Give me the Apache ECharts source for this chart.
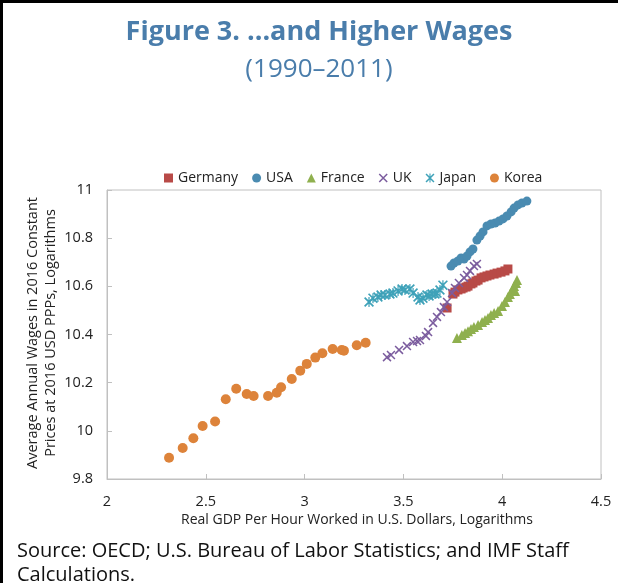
<!DOCTYPE html>
<html>
<head>
<meta charset="utf-8">
<script src="https://cdn.jsdelivr.net/npm/echarts@6/dist/echarts.min.js"></script>
<style>
html,body{margin:0;padding:0;background:#fff;}
#chart{width:618px;height:583px;}
</style>
</head>
<body>
<div id="chart"></div>
<script>
// Data: [real GDP per hour (log), average annual wage (log)]
const germany = [[3.721,10.510],[3.751,10.568],[3.761,10.576],[3.776,10.585],[3.792,10.589],[3.802,10.593],[3.817,10.597],[3.827,10.601],[3.842,10.610],[3.852,10.614],[3.867,10.622],[3.878,10.626],[3.893,10.635],[3.908,10.639],[3.923,10.643],[3.938,10.647],[3.959,10.651],[3.974,10.655],[3.994,10.659],[4.014,10.664],[4.029,10.672]];
const usa = [[3.741,10.684],[3.756,10.697],[3.776,10.705],[3.792,10.718],[3.807,10.713],[3.822,10.726],[3.837,10.743],[3.852,10.755],[3.872,10.792],[3.888,10.809],[3.903,10.826],[3.923,10.851],[3.943,10.859],[3.964,10.863],[3.984,10.871],[4.004,10.880],[4.024,10.892],[4.045,10.909],[4.060,10.925],[4.080,10.938],[4.100,10.946],[4.125,10.954]];
const france = [[3.771,10.385],[3.796,10.398],[3.812,10.406],[3.827,10.414],[3.842,10.423],[3.857,10.431],[3.878,10.439],[3.898,10.452],[3.913,10.460],[3.928,10.468],[3.943,10.481],[3.959,10.489],[3.979,10.498],[3.999,10.518],[4.014,10.535],[4.029,10.556],[4.039,10.568],[4.050,10.585],[4.060,10.601],[4.065,10.581],[4.070,10.614],[4.075,10.626]];
const uk = [[3.417,10.306],[3.437,10.315],[3.478,10.336],[3.518,10.352],[3.549,10.369],[3.569,10.373],[3.584,10.377],[3.614,10.394],[3.625,10.410],[3.650,10.448],[3.670,10.473],[3.690,10.493],[3.705,10.514],[3.721,10.535],[3.746,10.572],[3.761,10.593],[3.781,10.614],[3.807,10.635],[3.822,10.647],[3.837,10.664],[3.857,10.684],[3.872,10.693]];
const japan = [[3.326,10.535],[3.346,10.551],[3.371,10.556],[3.387,10.564],[3.407,10.564],[3.432,10.568],[3.447,10.572],[3.473,10.581],[3.493,10.589],[3.508,10.585],[3.533,10.589],[3.549,10.572],[3.574,10.556],[3.584,10.543],[3.599,10.551],[3.619,10.564],[3.630,10.560],[3.645,10.568],[3.660,10.568],[3.670,10.572],[3.685,10.585],[3.700,10.605]];
const korea = [[2.314,9.888],[2.383,9.929],[2.437,9.969],[2.484,10.020],[2.547,10.039],[2.601,10.131],[2.654,10.175],[2.707,10.153],[2.742,10.145],[2.815,10.145],[2.859,10.158],[2.881,10.181],[2.935,10.215],[2.978,10.250],[3.011,10.278],[3.054,10.304],[3.090,10.322],[3.142,10.340],[3.188,10.336],[3.199,10.333],[3.264,10.355],[3.309,10.366]];

const seriesNames = ['Germany','USA','France','UK','Japan','Korea'];
const xRange = [2, 4.5, 0.5];
const yRange = [9.8, 11, 0.2];

const FONT = '"Open Sans", "Noto Sans", sans-serif';
const crossPath = 'path://M0,1.2 L1.2,0 L10,8.8 L8.8,10 Z M8.8,0 L10,1.2 L1.2,10 L0,8.8 Z';
const starPath = 'path://M0,1.2 L1.2,0 L10,8.8 L8.8,10 Z M8.8,0 L10,1.2 L1.2,10 L0,8.8 Z M4.4,0 L5.6,0 L5.6,10 L4.4,10 Z';

const styles = [
  {data: germany, symbol: 'rect', size: 9, color: '#B84A47'},
  {data: usa, symbol: 'circle', size: 9, color: '#4A8BB1'},
  {data: france, symbol: 'triangle', size: 10, color: '#8FB04E'},
  {data: uk, symbol: crossPath, size: 9, color: '#7B5C9E'},
  {data: japan, symbol: starPath, size: 10, color: '#3FA2B9'},
  {data: korea, symbol: 'circle', size: 10, color: '#DD833A'}
];

const chart = echarts.init(document.getElementById('chart'), null, {renderer: 'canvas'});
chart.setOption({
  animation: false,
  textStyle: {fontFamily: FONT},
  grid: {left: 107, right: 17, top: 190, bottom: 104, show: true, borderColor: '#c0c0c0', borderWidth: 1},
  legend: {
    data: seriesNames,
    left: 159, top: 166,
    itemWidth: 9, itemHeight: 9, itemGap: 14,
    textStyle: {fontFamily: FONT, fontSize: 14, color: '#222'}
  },
  xAxis: {
    type: 'value', min: xRange[0], max: xRange[1], interval: xRange[2],
    axisLine: {show: true, lineStyle: {color: '#c0c0c0'}},
    axisTick: {show: true, inside: true, length: 5, lineStyle: {color: '#c0c0c0'}},
    splitLine: {show: false},
    axisLabel: {color: '#222', fontSize: 14.5, margin: 15, fontFamily: FONT}
  },
  yAxis: {
    type: 'value', min: yRange[0], max: yRange[1], interval: yRange[2],
    axisLine: {show: true, lineStyle: {color: '#c0c0c0'}},
    axisTick: {show: true, inside: true, length: 5, lineStyle: {color: '#c0c0c0'}},
    splitLine: {show: false},
    axisLabel: {color: '#222', fontSize: 14.5, margin: 14, fontFamily: FONT}
  },
  series: styles.map((s, i) => ({
    name: seriesNames[i], type: 'scatter', data: s.data,
    symbol: s.symbol, symbolSize: s.size,
    itemStyle: {color: s.color, opacity: 1}
  })),
  graphic: [
    {type: 'rect', left: 0, top: 0, shape: {width: 3, height: 583}, style: {fill: '#000'}},
    {type: 'rect', left: 0, top: 0, shape: {width: 618, height: 3}, style: {fill: '#000'}},
    {type: 'text', x: 319, y: 32, style: {text: 'Figure 3. ...and Higher Wages', fill: '#4A7DAB', font: 'bold 27px ' + FONT, textAlign: 'center', textVerticalAlign: 'middle'}},
    {type: 'text', x: 319, y: 70, style: {text: '(1990–2011)', fill: '#4A7DAB', font: '26px ' + FONT, textAlign: 'center', textVerticalAlign: 'middle'}},
    {type: 'text', x: 33, y: 333, rotation: Math.PI/2, style: {text: 'Average Annual Wages in 2016 Constant', fill: '#222', font: '14.5px ' + FONT, textAlign: 'center', textVerticalAlign: 'middle'}},
    {type: 'text', x: 51, y: 333, rotation: Math.PI/2, style: {text: 'Prices at 2016 USD PPPs, Logarithms', fill: '#222', font: '14.5px ' + FONT, textAlign: 'center', textVerticalAlign: 'middle'}},
    {type: 'text', x: 357, y: 520, style: {text: 'Real GDP Per Hour Worked in U.S. Dollars, Logarithms', fill: '#222', font: '14px ' + FONT, textAlign: 'center', textVerticalAlign: 'middle'}},
    {type: 'text', x: 17, y: 551, style: {text: 'Source: OECD; U.S. Bureau of Labor Statistics; and IMF Staff', fill: '#111', font: '20px ' + FONT, textAlign: 'left', textVerticalAlign: 'middle'}},
    {type: 'text', x: 17, y: 575, style: {text: 'Calculations.', fill: '#111', font: '20px ' + FONT, textAlign: 'left', textVerticalAlign: 'middle'}}
  ]
});
</script>
</body>
</html>
